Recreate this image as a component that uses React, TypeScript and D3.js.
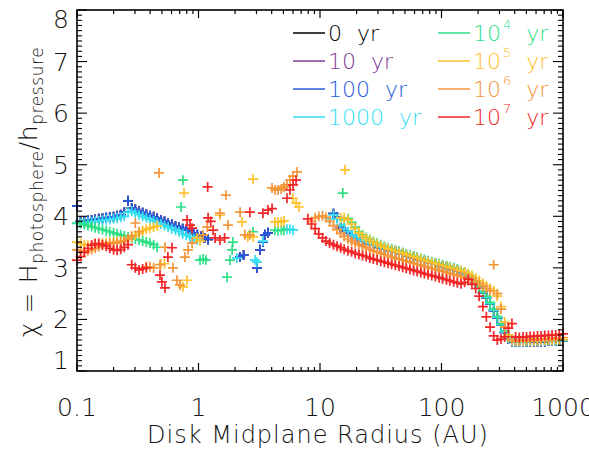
import React, { useEffect, useRef } from 'react';
import * as d3 from 'd3';

// Radial grid points (AU) for the inner and outer disk
const innerRadius = [
  0.1, 0.107, 0.115, 0.123, 0.132, 0.141, 0.151, 0.162, 0.174, 0.186,
  0.2, 0.214, 0.229, 0.245, 0.263, 0.282, 0.302, 0.324, 0.347, 0.372,
  0.398, 0.427, 0.457, 0.49, 0.525, 0.562, 0.603, 0.646, 0.692, 0.741,
  0.794, 0.851, 0.912, 0.977, 1.05, 1.12, 1.2,
];
const outerRadius = [
  7.94, 8.51, 9.12, 9.77, 10.5, 11.2, 12.0, 12.9, 13.8, 14.8,
  15.8, 17.0, 18.2, 19.5, 20.9, 22.4, 24.0, 25.7, 27.5, 29.5,
  31.6, 33.9, 36.3, 38.9, 41.7, 44.7, 47.9, 51.3, 55.0, 58.9,
  63.1, 67.6, 72.4, 77.6, 83.2, 89.1, 95.5, 102, 110, 117,
  126, 135, 145, 155, 166, 178, 191, 204, 219, 234,
  251, 269, 288, 309, 331, 355, 380, 407, 437, 468,
  501, 537, 575, 617, 661, 708, 759, 813, 871, 933,
  1000,
];

type V = number | null;
const _ = null;

// chi on the inner grid
const inner100: V[] = [
  4.2, 3.9, 3.91, 3.92, 3.93, 3.94, 3.95, 3.96, 3.97, 3.98,
  3.99, 4.01, 4.03, 4.08, 4.3, 4.16, 4.13, 4.1, 4.07, 4.04,
  4.01, 3.99, 3.96, 3.93, 3.9, 3.87, 3.84, 3.81, 3.79, 3.76,
  3.73, 3.7, 3.67, 3.64, 3.61, 3.58, 3.55,
];
const inner1000: V[] = [
  3.86, 3.86, 3.87, 3.88, 3.89, 3.9, 3.91, 3.92, 3.93, 3.94,
  3.95, 3.96, 3.98, 4.0, 4.08, 4.1, 4.06, 4.03, 4.0, 3.97,
  3.94, 3.91, 3.88, 3.85, 3.82, 3.79, 3.76, 3.73, 3.7, 3.66,
  3.63, 3.6, 3.57, 3.54, _, _, _,
];
const inner1e4: V[] = [
  3.87, 3.86, 3.84, 3.82, 3.8, 3.78, 3.76, 3.74, 3.72, 3.7,
  3.68, 3.66, 3.64, 3.62, 3.6, 3.58, 3.56, 3.54, 3.52, 3.5,
  3.48, 3.45, 3.4, _, _, _, _, _, _, _,
  _, _, _, _, _, _, _,
];
const inner1e5: V[] = [
  3.5, 3.47, 3.45, 3.44, 3.44, 3.45, 3.46, 3.47, 3.48, 3.49,
  3.5, 3.51, 3.52, 3.53, 3.56, 3.6, 3.63, 3.67, 3.72, 3.75,
  3.77, 3.79, 3.81, 3.07, 3.08, _, _, _, _, _,
  _, _, _, _, _, _, _,
];
const inner1e6: V[] = [
  3.35, 3.33, 3.32, 3.33, 3.35, 3.38, 3.41, 3.44, 3.46, 3.47,
  3.48, 3.48, 3.5, 3.52, 3.56, 3.62, 3.87, 3.7, _, 3.02,
  3.02, 3.0, _, _, _, _, _, _, _, _,
  _, _, _, _, _, _, _,
];
const inner1e7: V[] = [
  3.15, 3.22, 3.3, 3.38, 3.44, 3.47, 3.47, 3.45, 3.42, 3.38,
  3.35, 3.34, 3.36, 3.4, 3.45, 3.06, 3.0, 2.96, 2.98, 3.0,
  _, _, _, _, _, _, _, _, _, _,
  _, _, _, _, _, _, _,
];

// chi on the outer grid
const outer100: V[] = [
  _, _, _, _, _, _, _, 4.05, 3.98, 3.78,
  3.72, 3.68, 3.63, 3.59, 3.55, 3.52, 3.49, 3.46, 3.44, 3.41,
  3.39, 3.37, 3.35, 3.33, 3.31, 3.29, 3.27, 3.24, 3.22, 3.2,
  3.18, 3.15, 3.13, 3.11, 3.09, 3.07, 3.05, 3.03, 3.01, 2.99,
  2.97, 2.95, 2.92, 2.89, 2.85, 2.79, 2.71, 2.62, 2.52, 2.42,
  2.3, 2.17, 2.03, 1.89, 1.75, 1.62, 1.57, 1.56, 1.56, 1.56,
  1.56, 1.57, 1.57, 1.57, 1.57, 1.57, 1.58, 1.58, 1.58, 1.58,
  1.58,
];
const outer1000: V[] = [
  _, _, _, _, _, _, 3.95, 4.03, 3.95, 3.83,
  3.75, 3.7, 3.64, 3.6, 3.56, 3.53, 3.5, 3.47, 3.45, 3.42,
  3.4, 3.38, 3.36, 3.34, 3.32, 3.3, 3.28, 3.25, 3.23, 3.21,
  3.19, 3.16, 3.14, 3.12, 3.1, 3.08, 3.06, 3.04, 3.02, 3.0,
  2.98, 2.96, 2.93, 2.9, 2.86, 2.8, 2.72, 2.63, 2.53, 2.43,
  2.31, 2.18, 2.04, 1.9, 1.76, 1.63, 1.58, 1.57, 1.57, 1.57,
  1.57, 1.58, 1.58, 1.58, 1.58, 1.58, 1.59, 1.59, 1.59, 1.59,
  1.59,
];
const outer1e4: V[] = [
  _, _, _, _, _, _, _, _, _, _,
  3.93, 3.95, 3.88, 3.79, 3.7, 3.64, 3.59, 3.55, 3.51, 3.48,
  3.45, 3.42, 3.39, 3.37, 3.34, 3.32, 3.3, 3.27, 3.25, 3.23,
  3.21, 3.18, 3.16, 3.14, 3.12, 3.1, 3.08, 3.06, 3.04, 3.02,
  3.0, 2.98, 2.95, 2.92, 2.88, 2.82, 2.74, 2.65, 2.55, 2.45,
  2.33, 2.2, 2.06, 1.92, 1.78, 1.65, 1.6, 1.58, 1.58, 1.58,
  1.58, 1.58, 1.59, 1.59, 1.59, 1.59, 1.6, 1.6, 1.6, 1.6,
  1.6,
];
const outer1e5: V[] = [
  _, _, _, _, _, _, _, _, _, 3.97,
  3.97, 3.93, 3.85, 3.76, 3.68, 3.62, 3.57, 3.53, 3.49, 3.46,
  3.43, 3.4, 3.37, 3.35, 3.32, 3.3, 3.28, 3.25, 3.23, 3.21,
  3.19, 3.16, 3.14, 3.12, 3.1, 3.08, 3.06, 3.04, 3.02, 3.0,
  2.98, 2.96, 2.94, 2.92, 2.89, 2.85, 2.8, 2.75, 2.7, 2.65,
  2.6, 2.55, 2.45, 2.25, 1.95, 1.7, 1.6, 1.58, 1.58, 1.58,
  1.59, 1.59, 1.59, 1.59, 1.6, 1.6, 1.6, 1.6, 1.61, 1.61,
  1.61,
];
const outer1e6: V[] = [
  _, 3.9, 3.97, 4.0, 4.01, 3.98, 3.9, 3.82, 3.74, 3.67,
  3.61, 3.56, 3.52, 3.48, 3.45, 3.42, 3.39, 3.36, 3.33, 3.31,
  3.28, 3.26, 3.23, 3.21, 3.19, 3.17, 3.15, 3.13, 3.11, 3.09,
  3.07, 3.05, 3.03, 3.01, 2.99, 2.97, 2.95, 2.93, 2.91, 2.89,
  2.87, 2.85, 2.83, 2.81, 2.79, 2.76, 2.72, 2.68, 2.64, 2.6,
  2.56, 3.06, 2.5, 2.2, 1.85, 1.65, 1.6, 1.6, 1.6, 1.61,
  1.61, 1.61, 1.62, 1.62, 1.62, 1.63, 1.63, 1.63, 1.64, 1.64,
  1.65,
];
const outer1e7: V[] = [
  3.95, 3.85, 3.76, 3.66, 3.58, 3.52, 3.48, 3.45, 3.42, 3.39,
  3.36, 3.33, 3.31, 3.28, 3.26, 3.24, 3.22, 3.19, 3.17, 3.15,
  3.13, 3.11, 3.09, 3.07, 3.05, 3.03, 3.01, 2.99, 2.97, 2.95,
  2.93, 2.91, 2.89, 2.87, 2.85, 2.83, 2.81, 2.79, 2.77, 2.75,
  2.73, 2.71, 2.69, 2.72, 2.78, 2.68, 2.6, 2.45, 2.25, 2.05,
  1.85, 1.68, 1.6, 1.62, 1.66, 1.83, 1.92, 1.66, 1.65, 1.66,
  1.66, 1.67, 1.67, 1.68, 1.68, 1.69, 1.69, 1.7, 1.7, 1.71,
  1.72,
];

// scattered points in the 1-7 AU zone and isolated outliers: [radius AU, chi]
const scatter100: [number, number][] = [
  [2.2, 3.21], [2.35, 3.25], [3.03, 3.0], [3.21, 3.35], [3.39, 3.5], [3.53, 3.64], [3.73, 3.68],
];
const scatter1000: [number, number][] = [
  [2.07, 3.19], [2.92, 3.15], [3.03, 3.11], [3.39, 3.52], [5.35, 3.75], [5.66, 3.75], [6.0, 3.73],
];
const scatter1e4: [number, number][] = [
  [0.718, 4.18], [0.745, 4.7], [1.03, 3.15], [1.09, 3.17], [1.15, 3.15], [1.72, 2.82],
  [1.82, 3.15], [1.89, 3.35], [1.92, 3.5], [2.81, 3.7], [4.26, 3.73], [4.51, 3.72],
  [4.8, 3.73], [5.05, 3.73], [15.4, 4.45],
];
const scatter1e5: [number, number][] = [
  [0.745, 2.63], [0.76, 4.45], [0.804, 2.76], [0.972, 3.58], [1.03, 3.52], [1.5, 4.02],
  [2.28, 3.89], [2.55, 3.6], [2.81, 3.6], [2.81, 4.72], [4.26, 3.89], [4.51, 3.89],
  [4.8, 3.89], [5.05, 3.91], [6.0, 4.35], [6.35, 4.26], [6.7, 4.18], [16.1, 4.9],
];
const scatter1e6: [number, number][] = [
  [0.473, 4.84], [0.482, 3.06], [0.53, 3.4], [0.616, 3.0], [0.665, 2.76], [0.704, 2.67],
  [0.774, 3.21], [0.82, 3.35], [0.885, 3.48], [1.09, 3.64], [1.18, 3.79], [1.5, 4.06],
  [1.68, 4.41], [1.75, 3.83], [2.2, 4.08], [2.41, 3.64], [2.65, 3.64], [4.03, 4.55],
  [4.26, 4.51], [4.51, 4.51], [4.8, 4.53], [5.05, 4.57], [5.35, 4.61], [5.66, 4.7],
  [6.0, 4.78], [6.47, 4.86],
];
const scatter1e7: [number, number][] = [
  [0.482, 2.86], [0.5, 2.73], [0.53, 2.61], [0.56, 3.21], [0.605, 3.39], [0.804, 3.93],
  [0.851, 3.83], [0.885, 3.77], [1.19, 4.57], [1.2, 3.97], [1.26, 3.9], [1.32, 3.73],
  [1.37, 3.58], [1.5, 3.54], [1.64, 3.58], [2.65, 4.08], [3.39, 4.06], [3.73, 4.12],
  [4.03, 4.15], [5.35, 4.35], [5.66, 4.51], [6.0, 4.61], [6.35, 4.7],
];

const ageLabels = ['0', '10', '100', '1000', '10', '10', '10', '10'];
const ageExponents = ['', '', '', '', '4', '5', '6', '7'];
const ageColors = ['#000000', '#7d3c98', '#2a58dc', '#35def2', '#2fe087', '#ffc12c', '#f5953a', '#f22626'];

// 0 yr and 10 yr sit exactly under the 100 yr profile
const series = [
  { inner: inner100, outer: outer100, scatter: scatter100 },
  { inner: inner100, outer: outer100, scatter: scatter100 },
  { inner: inner100, outer: outer100, scatter: scatter100 },
  { inner: inner1000, outer: outer1000, scatter: scatter1000 },
  { inner: inner1e4, outer: outer1e4, scatter: scatter1e4 },
  { inner: inner1e5, outer: outer1e5, scatter: scatter1e5 },
  { inner: inner1e6, outer: outer1e6, scatter: scatter1e6 },
  { inner: inner1e7, outer: outer1e7, scatter: scatter1e7 },
].map((s, i) => ({ ...s, label: ageLabels[i], exp: ageExponents[i], color: ageColors[i] }));

const xMajor = [0.1, 1, 10, 100, 1000];
const xTickLabels = ['0.1', '1', '10', '100', '1000'];
const yMajor = [1, 2, 3, 4, 5, 6, 7, 8];

const FONT = "'DejaVu Sans', sans-serif";
const WEIGHT = 200;

const App: React.FC = () => {
  const svgRef = useRef<SVGSVGElement>(null);

  useEffect(() => {
    if (!svgRef.current) return;
    const svg = d3.select(svgRef.current);
    svg.selectAll('*').remove();

    const left = 77, right = 563, top = 10, bottom = 371;
    const x = d3.scaleLog().domain([0.1, 1000]).range([left, right]);
    const y = d3.scaleLinear().domain([1, 8]).range([bottom, top]);

    // plus-sign markers
    const plot = svg.append('g');
    series.forEach(s => {
      const pts: [number, number][] = [];
      innerRadius.forEach((r, i) => { const v = s.inner[i]; if (v != null) pts.push([r, v]); });
      s.scatter.forEach(p => pts.push(p));
      outerRadius.forEach((r, i) => { const v = s.outer[i]; if (v != null) pts.push([r, v]); });
      plot.append('g')
        .attr('stroke', s.color)
        .attr('stroke-width', 1.7)
        .attr('fill', 'none')
        .selectAll('path')
        .data(pts)
        .join('path')
        .attr('d', d => `M${x(d[0]) - 5},${y(d[1])}h10M${x(d[0])},${y(d[1]) - 5}v10`);
    });

    // frame and ticks (inward on all four sides)
    const axes = svg.append('g').attr('stroke', '#000').attr('fill', 'none');
    axes.append('rect')
      .attr('x', left).attr('y', top)
      .attr('width', right - left).attr('height', bottom - top)
      .attr('stroke-width', 1.6);

    const xMinor: number[] = [];
    [0.1, 1, 10, 100].forEach(d => { for (let k = 2; k <= 9; k++) xMinor.push(d * k); });
    const xTicks = [...xMajor.map(v => ({ v, len: 8 })), ...xMinor.map(v => ({ v, len: 4 }))];
    axes.append('g').selectAll('line').data(xTicks).join('line')
      .attr('x1', d => x(d.v)).attr('x2', d => x(d.v))
      .attr('y1', bottom).attr('y2', d => bottom - d.len).attr('stroke-width', 1.2);
    axes.append('g').selectAll('line').data(xTicks).join('line')
      .attr('x1', d => x(d.v)).attr('x2', d => x(d.v))
      .attr('y1', top).attr('y2', d => top + d.len).attr('stroke-width', 1.2);

    const yTicks = d3.range(10, 81).map(k => ({ v: k / 10, len: k % 10 === 0 ? 10 : 5 }));
    axes.append('g').selectAll('line').data(yTicks).join('line')
      .attr('x1', left).attr('x2', d => left + d.len)
      .attr('y1', d => y(d.v)).attr('y2', d => y(d.v)).attr('stroke-width', 1.1);
    axes.append('g').selectAll('line').data(yTicks).join('line')
      .attr('x1', right).attr('x2', d => right - d.len)
      .attr('y1', d => y(d.v)).attr('y2', d => y(d.v)).attr('stroke-width', 1.1);

    // tick labels
    const labels = svg.append('g')
      .attr('font-family', FONT).attr('font-weight', WEIGHT)
      .attr('fill', '#111').attr('font-size', 25);
    labels.append('g').selectAll('text').data(xMajor).join('text')
      .attr('x', d => x(d)).attr('y', 416).attr('text-anchor', 'middle')
      .text((d, i) => xTickLabels[i]);
    labels.append('g').selectAll('text').data(yMajor).join('text')
      .attr('x', left - 8)
      .attr('y', d => Math.min(Math.max(y(d), top + 9), bottom - 11))
      .attr('dy', '0.36em')
      .attr('text-anchor', 'end')
      .text(d => String(d));

    // axis titles
    svg.append('text')
      .attr('font-family', FONT).attr('font-weight', WEIGHT)
      .attr('font-size', 24).attr('letter-spacing', 1).attr('fill', '#111')
      .attr('x', (left + right) / 2 - 2).attr('y', 443).attr('text-anchor', 'middle')
      .text('Disk Midplane Radius (AU)');

    const yt = svg.append('text')
      .attr('font-family', FONT).attr('font-weight', WEIGHT)
      .attr('font-size', 25).attr('letter-spacing', 0.6).attr('fill', '#111')
      .attr('text-anchor', 'middle')
      .attr('transform', 'translate(37,192) rotate(-90)');
    yt.append('tspan').text('χ = H');
    yt.append('tspan').attr('font-size', 17).attr('dy', 6).text('photosphere');
    yt.append('tspan').attr('dy', -6).text('/h');
    yt.append('tspan').attr('font-size', 17).attr('dy', 6).text('pressure');

    // legend
    const legend = svg.append('g')
      .attr('font-family', FONT).attr('font-weight', WEIGHT).attr('font-size', 22);
    series.forEach((s, i) => {
      const col = i < 4 ? 0 : 1;
      const ly = 33 + (i % 4) * 28;
      const x1 = col ? 438 : 293;
      legend.append('line')
        .attr('x1', x1).attr('x2', x1 + 32)
        .attr('y1', ly).attr('y2', ly)
        .attr('stroke', s.color).attr('stroke-width', 1.5);
      const t = legend.append('text')
        .attr('x', x1 + 35).attr('y', ly + 8).attr('fill', s.color);
      t.append('tspan').text(s.label);
      if (s.exp) t.append('tspan').attr('font-size', 13).attr('dx', 2).attr('dy', -12).text(s.exp);
      t.append('tspan').attr('dx', 15).attr('dy', s.exp ? 12 : 0).text('yr');
    });
  }, []);

  return (
    <svg
      ref={svgRef}
      width={589}
      height={450}
      style={{ position: 'absolute', left: 0, top: 0, background: '#fff' }}
    />
  );
};

export default App;
